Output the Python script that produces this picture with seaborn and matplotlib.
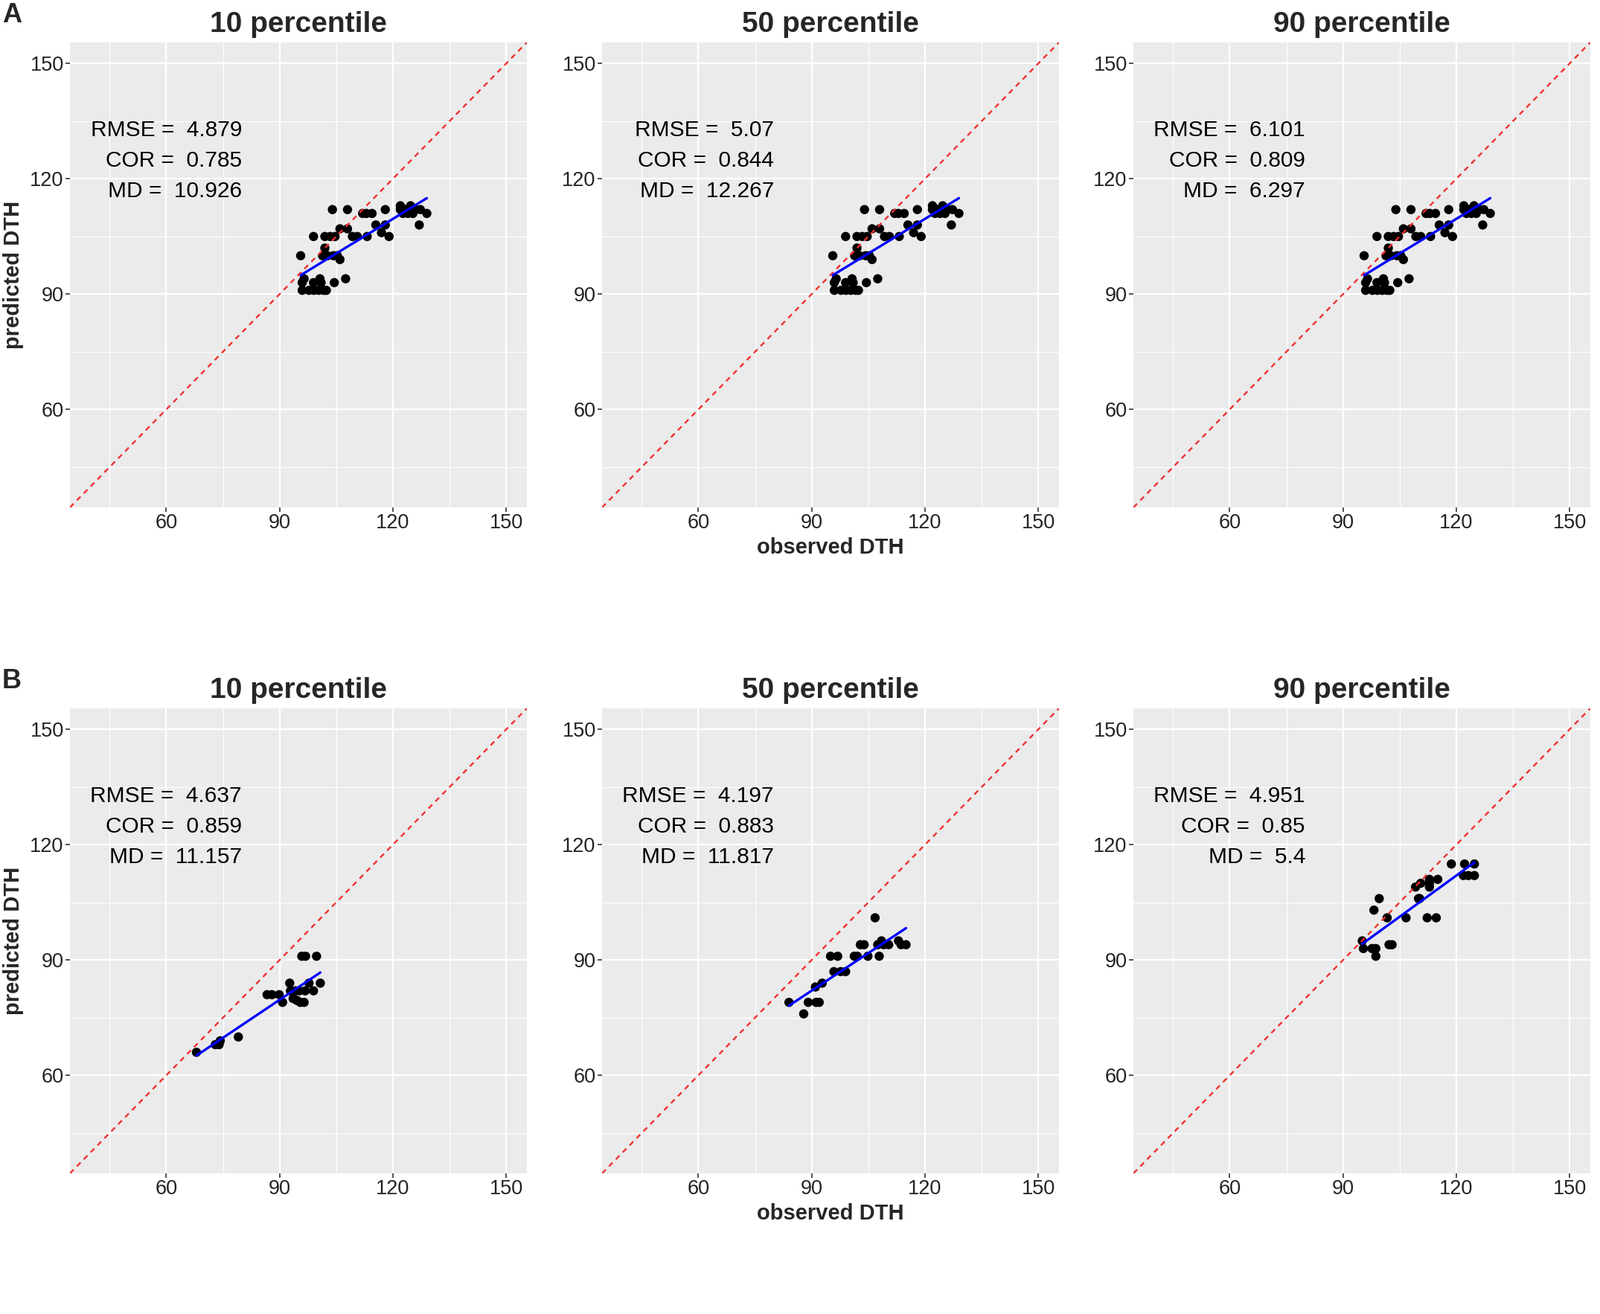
"""
Observed vs predicted DTH scatter panels (10 / 50 / 90 percentile), two rows A and B.
"""

import matplotlib
matplotlib.use("Agg")
import matplotlib.pyplot as plt
from matplotlib.ticker import MultipleLocator
import pandas as pd
import seaborn as sns

# ---- data ------------------------------------------------------------------
titles = ["10 percentile", "50 percentile", "90 percentile"]
row_labels = ["A", "B"]

# row A: the three panels show the same points
obs_a = [104, 108, 112, 113, 114.5, 118,
         122, 124.7, 122, 123.4, 124.7, 126, 127.3, 122.7, 124, 125.3, 129, 127,
         115.5, 118, 117, 119,
         106, 108,
         99, 102, 103.4, 104.7, 109.3, 110.6, 113.2,
         102,
         95.6, 101.4, 102.7, 104.3, 105.3,
         106,
         96.5, 96, 99, 100.7, 101, 104.5, 107.5,
         96, 97.8, 99.1, 100.4, 101.7, 102.4]
pred_a = [112, 112, 111, 111, 111, 112,
          113, 113, 112, 112, 112, 112, 112, 111, 111, 111, 111, 108,
          108, 108, 106, 105,
          107, 107,
          105, 105, 105, 105, 105, 105, 105,
          102,
          100, 100, 100, 100, 100,
          99,
          94, 93, 93, 94, 93, 93, 94,
          91, 91, 91, 91, 91, 91]

obs_b1 = [95.9, 96.9, 99.8, 92.7, 97.8, 100.8, 92.9, 94.2, 95.2, 96.8, 99,
          86.7, 88, 89.9, 90.8, 93.6, 94.6, 95.5, 96.5, 79.1, 73, 74, 74.3, 68]
pred_b1 = [91, 91, 91, 84, 84, 84, 82, 82, 82, 82, 82,
           81, 81, 81, 79, 80, 79.5, 79, 79, 70, 68, 68, 69, 66]

obs_b2 = [106.8, 102.9, 103.9, 107.5, 108.5, 109.1, 110.4, 113, 113.7, 115,
          95, 96.9, 101.3, 102.1, 104.9, 107.9, 95.9, 97.7, 99,
          91, 92.8, 84, 89.1, 91.2, 92, 87.9]
pred_b2 = [101, 94, 94, 94, 95, 94, 94, 95, 94, 94,
           91, 91, 91, 91, 91, 91, 87, 87, 87,
           83, 84, 79, 79, 79, 79, 76]

obs_b3 = [118.7, 122.2, 124.8, 121.9, 123.2, 124.8, 112.9, 115.1, 112.9, 112.9,
          110.6, 109.2, 110, 110.3, 99.6, 98.2, 101.7, 106.7, 112.3, 114.7,
          95.1, 95.4, 97.7, 98.7, 98.7, 102.2, 103]
pred_b3 = [115, 115, 115, 112, 112, 112, 111, 111, 110, 109,
           110, 109, 106, 106, 106, 103, 101, 101, 101, 101,
           95, 93, 93, 93, 91, 94, 94]

rmse_vals = [["4.879", "5.07", "6.101"], ["4.637", "4.197", "4.951"]]
cor_vals = [["0.785", "0.844", "0.809"], ["0.859", "0.883", "0.85"]]
md_vals = [["10.926", "12.267", "6.297"], ["11.157", "11.817", "5.4"]]

panel_obs = [[obs_a, obs_a, obs_a], [obs_b1, obs_b2, obs_b3]]
panel_pred = [[pred_a, pred_a, pred_a], [pred_b1, pred_b2, pred_b3]]

# ---- styling -----------------------------------------------------------------
sns.set_theme(style="darkgrid")
plt.rcParams["font.family"] = ["Liberation Sans", "DejaVu Sans"]

W, H = 2150, 1766
DPI = 100
col_left = [94, 809, 1523]
row_top = [57, 952]
pw, ph = 614, 625
lims = (34.5, 155.5)


def draw_panel(ax, obs, pred, rmse, cor, md, title):
    df = pd.DataFrame({"observed": obs, "predicted": pred})
    ax.set_facecolor("#EBEBEB")
    sns.scatterplot(data=df, x="observed", y="predicted", ax=ax, color="black",
                    s=80, edgecolor="none", zorder=3)
    ax.axline((40, 40), (150, 150), color="#F03030", lw=1.7,
              dashes=(3, 2.6), zorder=4)
    sns.regplot(data=df, x="observed", y="predicted", ax=ax, scatter=False,
                ci=None, color="blue", line_kws=dict(lw=2.4, zorder=5))
    ax.set_xlim(lims)
    ax.set_ylim(lims)
    ax.xaxis.set_major_locator(MultipleLocator(30))
    ax.yaxis.set_major_locator(MultipleLocator(30))
    ax.xaxis.set_minor_locator(MultipleLocator(15))
    ax.yaxis.set_minor_locator(MultipleLocator(15))
    ax.grid(which="major", color="white", lw=1.6)
    ax.grid(which="minor", color="white", lw=0.8)
    ax.tick_params(which="major", labelsize=19.5, colors="#333333", labelcolor="#222222",
                   length=4, width=1.2, pad=2, bottom=True, left=True)
    ax.tick_params(which="minor", length=0)
    for s in ax.spines.values():
        s.set_visible(False)
    ax.set_xlabel("")
    ax.set_ylabel("")
    ax.set_title(title, fontsize=28, fontweight="bold", pad=10)
    for yv, txt in zip([132.7, 124.8, 116.8],
                       [f"RMSE =  {rmse}", f"COR =  {cor}", f"MD =  {md}"]):
        ax.text(80, yv, txt, ha="right", va="center", fontsize=21.5, color="black")


fig = plt.figure(figsize=(W / DPI, H / DPI), dpi=DPI)
for r in range(2):
    for c in range(3):
        ax = fig.add_axes([col_left[c] / W, 1 - (row_top[r] + ph) / H, pw / W, ph / H])
        draw_panel(ax, panel_obs[r][c], panel_pred[r][c],
                   rmse_vals[r][c], cor_vals[r][c], md_vals[r][c], titles[c])
        if c == 0:
            ax.set_ylabel("predicted DTH", fontsize=21, fontweight="bold", labelpad=6)
        if c == 1:
            ax.set_xlabel("observed DTH", fontsize=21, fontweight="bold", labelpad=4)
    fig.text(3 / W, 1 - (row_top[r] - 36) / H, row_labels[r], fontsize=26,
             fontweight="bold", ha="left", va="center")

fig.savefig("out.png", dpi=DPI, facecolor="white")
